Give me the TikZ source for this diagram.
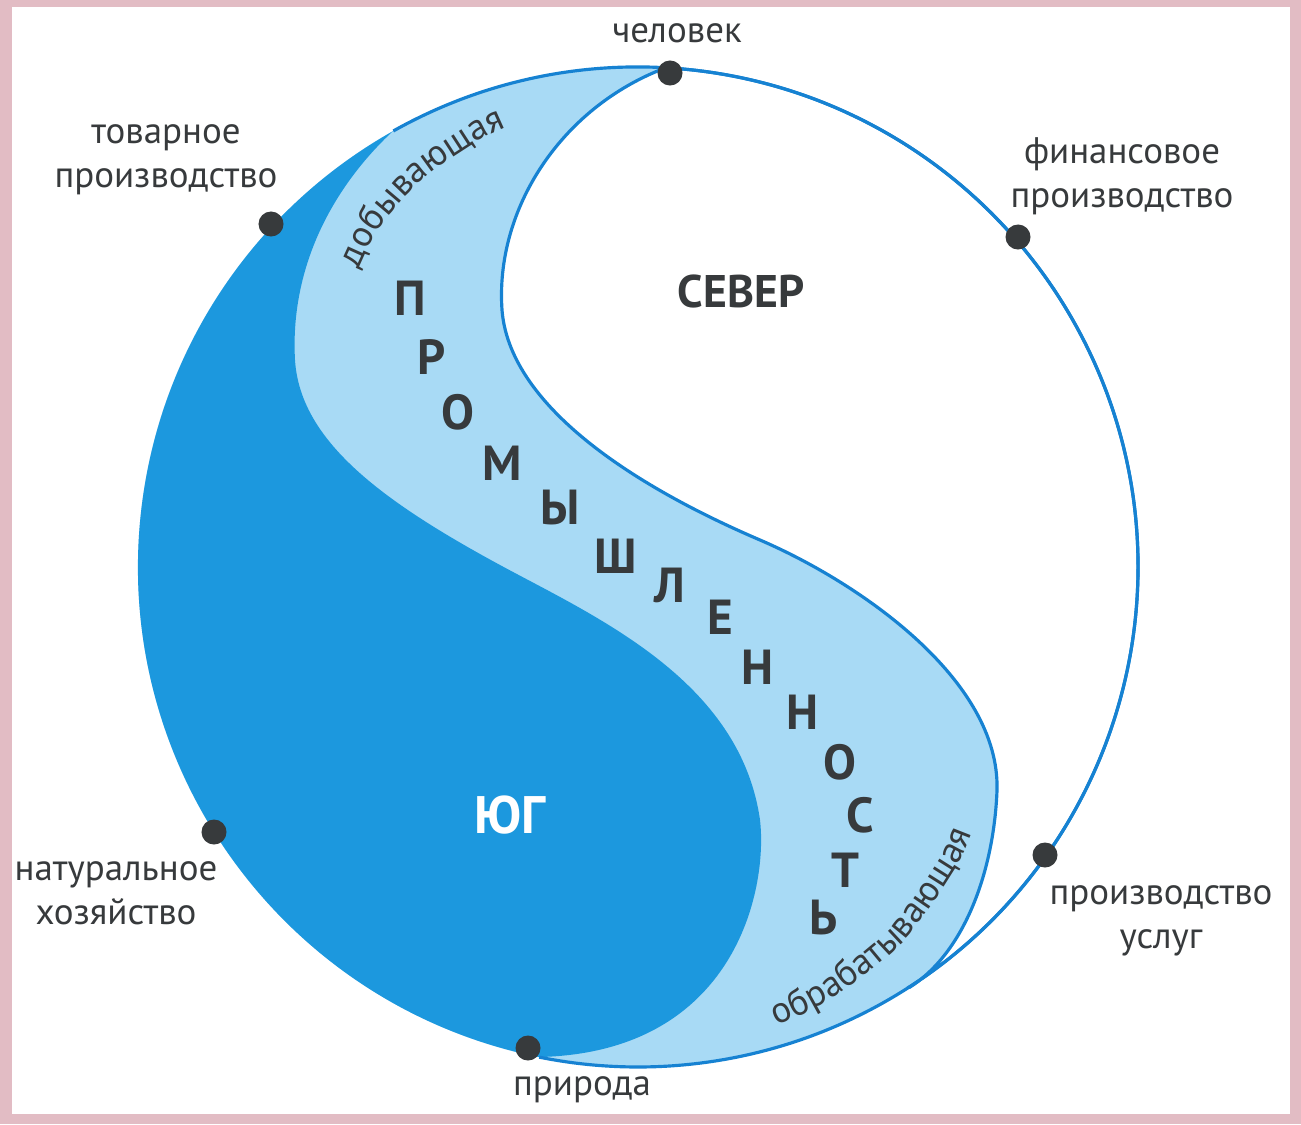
\documentclass[tikz,border=0pt]{standalone}
\usepackage{fontspec}
\setmainfont{PT Sans}
\usetikzlibrary{decorations.text}
\definecolor{rim}{RGB}{226,188,196}
\definecolor{south}{RGB}{28,152,222}
\definecolor{band}{RGB}{168,218,245}
\definecolor{edge}{RGB}{22,130,210}
\definecolor{ink}{RGB}{55,58,60}
\tikzset{
  lbl/.style={text=ink,font=\fontsize{10.5}{12.5}\selectfont,align=center},
  big/.style={text=ink,font=\fontsize{14}{16}\selectfont\bfseries},
  dot/.style={circle,fill=ink,inner sep=0pt,minimum size=0.25cm}
}
\begin{document}
\begin{tikzpicture}[x=0.01cm,y=-0.01cm]
\useasboundingbox (0,0) rectangle (1301,1124);
%frame
\fill[rim](0,0) rectangle (1301,1124);
\fill[white](12,7) rectangle (1290,1114);
%disc
\fill[band](638,567) circle[radius=500];
%south
\fill[south](638,567)++(101.4:500) arc[start angle=101.4,end angle=240.7,radius=500]
  -- (393,131) .. controls (330,190) and (290,270) .. (295,360)
  .. controls (300,440) and (380,500) .. (500,565)
  .. controls (596,617) and (740,680) .. (760,820)
  .. controls (768,890) and (735,1052) .. (540,1057) -- cycle;
%north
\filldraw[fill=white,draw=edge,line width=0.9pt](638,567)++(273.1:500) arc[start angle=273.1,end angle=417.1,radius=500]
  -- (910,987) .. controls (965,952) and (994,870) .. (997,790)
  .. controls (1000,680) and (860,583) .. (760,540)
  .. controls (620,480) and (509,400) .. (502,310)
  .. controls (495,210) and (560,108) .. (665,68) -- cycle;
%outline
\draw[edge,line width=0.9pt](638,567)++(240.7:500) arc[start angle=240.7,end angle=461.4,radius=500];
%band words
\path[decorate,decoration={text along path,text align=center,text color=ink,
  text={|\fontsize{10.5}{12.5}\selectfont|добывающая}}]
  plot[smooth] coordinates{(330,335)(345,300)(375,235)(420,182)(480,140)(530,118)(575,105)};
\path[decorate,decoration={text along path,text align=center,text color=ink,
  text={|\fontsize{10.5}{12.5}\selectfont|обрабатывающая}}]
  plot[smooth] coordinates{(720,1048)(767,1030)(830,1000)(900,945)(945,885)(965,850)(978,815)(990,775)};
%big word
\foreach \l/\x/\y [count=\i] in {П/410/298,Р/432/357,О/458/412,М/502/463,Ы/560/508,Ш/616/556,Л/670/585,Е/720/617,Н/758/667,Н/803/712,О/840/762,С/860/815,Т/845/870,Ь/823/917}
  {\node[big] (w\i) at (\x,\y) {\l};}
\node[big,font=\fontsize{13}{15}\selectfont\bfseries] (north) at (741,291) {СЕВЕР};
\node[big,font=\fontsize{15}{17}\selectfont\bfseries,text=white] (southlbl) at (510,815) {ЮГ};
%points
\node[dot] (man) at (670,73) {};
\node[dot] (goods) at (271,224) {};
\node[dot] (money) at (1018,237) {};
\node[dot] (subsist) at (214,832) {};
\node[dot] (service) at (1045,855) {};
\node[dot] (nature) at (528,1048) {};
\node[lbl] (manlbl) at (677,33) {человек};
\node[lbl] (goodslbl) at (166,160) {товарное\\производство};
\node[lbl] (moneylbl) at (1122,176) {финансовое\\производство};
\node[lbl] (subsistlbl) at (116,893) {натуральное\\хозяйство};
\node[lbl] (servicelbl) at (1161,921) {производство\\услуг};
\node[lbl] (naturelbl) at (582,1090) {природа};
\end{tikzpicture}
\end{document}
